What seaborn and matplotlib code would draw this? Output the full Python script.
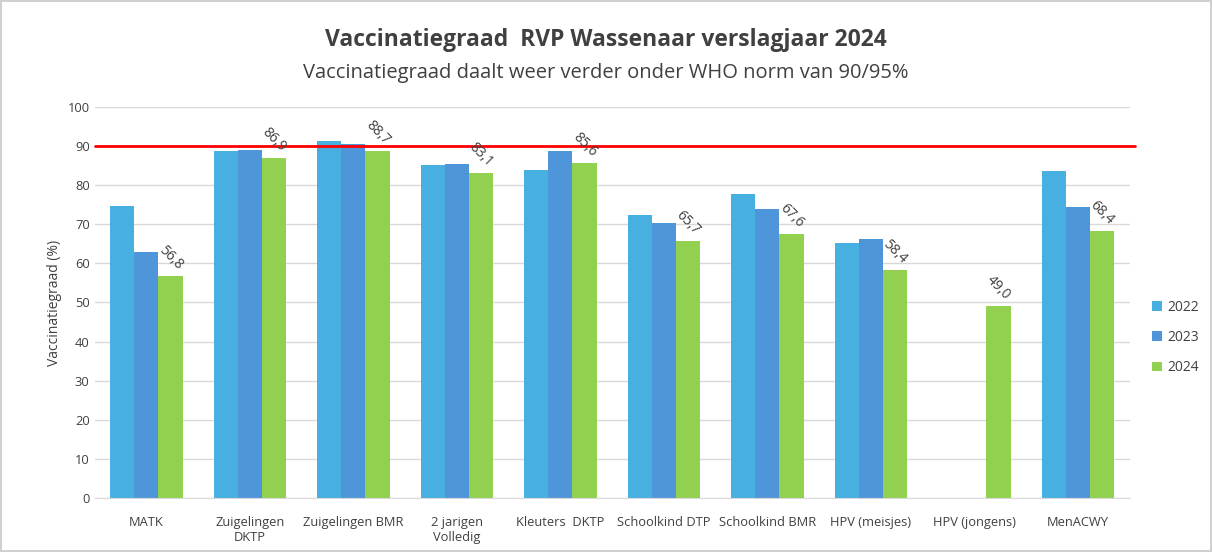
import pandas as pd
import numpy as np
import seaborn as sns
import matplotlib.pyplot as plt

categories = ["MATK", "Zuigelingen\nDKTP", "Zuigelingen BMR", "2 jarigen\nVolledig",
              "Kleuters  DKTP", "Schoolkind DTP", "Schoolkind BMR", "HPV (meisjes)",
              "HPV (jongens)", "MenACWY"]
years = ["2022", "2023", "2024"]
v2022 = [74.7, 88.7, 91.3, 85.2, 83.9, 72.4, 77.7, 65.2, np.nan, 83.6]
v2023 = [62.9, 89.0, 90.5, 85.4, 88.7, 70.3, 73.9, 66.2, np.nan, 74.4]
v2024 = [56.8, 86.9, 88.7, 83.1, 85.6, 65.7, 67.6, 58.4, 49.0, 68.4]
who_norm = 90

# long form for seaborn
df = pd.DataFrame({
    "categorie": categories * 3,
    "jaar": np.repeat(years, len(categories)),
    "waarde": v2022 + v2023 + v2024,
})

sns.set_style("white")
plt.rcParams["font.family"] = ["Open Sans", "DejaVu Sans"]

fig = plt.figure(figsize=(12.12, 5.52), dpi=100)
fig.patch.set_edgecolor("#d0d0d0")
fig.patch.set_linewidth(1.5)
ax = fig.add_axes([0.078, 0.098, 0.854, 0.708])

colors = ["#47B0E0", "#4F95D9", "#92D050"]
sns.barplot(data=df, x="categorie", y="waarde", hue="jaar", palette=colors,
            width=0.7, saturation=1, ax=ax, edgecolor="none")

ax.set_ylim(0, 100)
ax.set_yticks(np.arange(0, 101, 10))
ax.yaxis.grid(True, color="#d9d9d9", linewidth=1)
ax.set_axisbelow(True)
ax.set_xlim(-0.5, len(categories) - 0.5)
for s in ["top", "right", "left"]:
    ax.spines[s].set_visible(False)
ax.spines["bottom"].set_color("#d9d9d9")
ax.tick_params(axis="both", length=0, labelsize=9.3, colors="#404040")
ax.tick_params(axis="x", pad=13)
ax.set_xlabel("")
ax.set_ylabel("Vaccinatiegraad (%)", fontsize=10, color="#404040")

ax.axhline(who_norm, color="#ff0000", linewidth=2, xmin=0, xmax=1.005, clip_on=False)

# labels on the 2024 bars
for bar, val in zip(ax.containers[2], v2024):
    ax.text(bar.get_x() + bar.get_width() / 2, bar.get_height() + 0.8,
            f"{val:.1f}".replace(".", ","), rotation=-45, ha="center", va="bottom",
            fontsize=10, color="#404040")

leg = ax.legend(loc="center left", bbox_to_anchor=(1.01, 0.41), frameon=False,
                fontsize=10, handlelength=0.7, handleheight=0.7, labelspacing=1.1,
                handletextpad=0.4)
for t in leg.get_texts():
    t.set_color("#404040")

fig.text(0.5, 0.927, "Vaccinatiegraad  RVP Wassenaar verslagjaar 2024", ha="center",
         va="center", fontsize=16.5, fontweight="bold", color="#404040")
fig.text(0.5, 0.868, "Vaccinatiegraad daalt weer verder onder WHO norm van 90/95%",
         ha="center", va="center", fontsize=14.5, color="#404040")

fig.savefig("out.png", dpi=100)
